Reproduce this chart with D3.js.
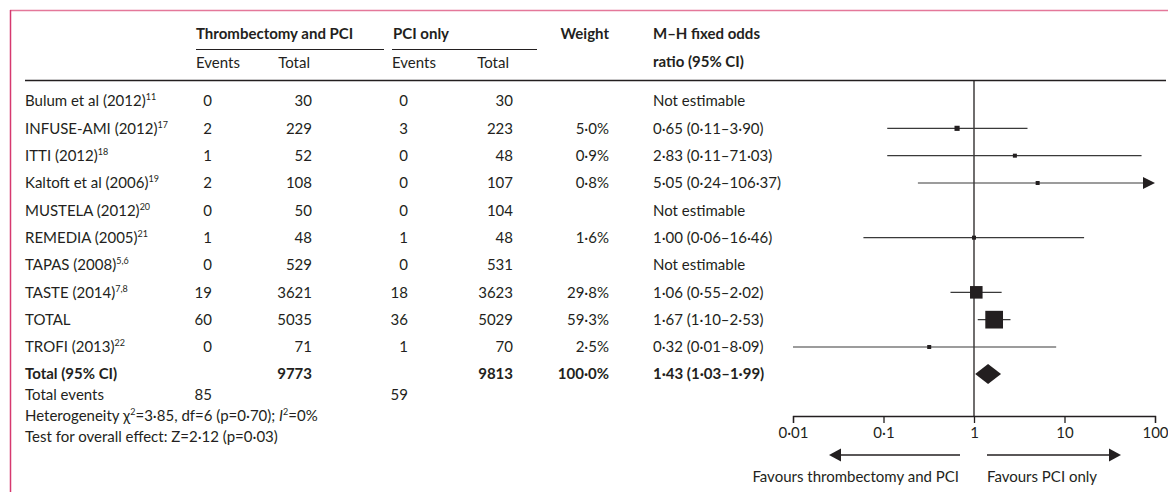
<!DOCTYPE html>
<html>
<head>
<meta charset="utf-8">
<script src="https://cdn.jsdelivr.net/npm/d3@7"></script>
<style>
  body { margin: 0; background: #fff; }
  text { font-family: Lato, "Open Sans", sans-serif; font-size: 15px; fill: #231f20; }
  .bold { font-weight: bold; }
</style>
</head>
<body>
<div id="forest"></div>
<script>
// study rows
const studies = ["Bulum et al (2012)", "INFUSE-AMI (2012)", "ITTI (2012)", "Kaltoft et al (2006)",
  "MUSTELA (2012)", "REMEDIA (2005)", "TAPAS (2008)", "TASTE (2014)", "TOTAL", "TROFI (2013)"];
const refs = ["11", "17", "18", "19", "20", "21", "5,6", "7,8", "", "22"];
const eventsT = [0, 2, 1, 2, 0, 1, 0, 19, 60, 0];
const totalT = [30, 229, 52, 108, 50, 48, 529, 3621, 5035, 71];
const eventsC = [0, 3, 0, 0, 0, 1, 0, 18, 36, 1];
const totalC = [30, 223, 48, 107, 104, 48, 531, 3623, 5029, 70];
const weights = [null, 5.0, 0.9, 0.8, null, 1.6, null, 29.8, 59.3, 2.5];
const oddsRatio = [null, 0.65, 2.83, 5.05, null, 1.00, null, 1.06, 1.67, 0.32];
const ciLow = [null, 0.11, 0.11, 0.24, null, 0.06, null, 0.55, 1.10, 0.01];
const ciHigh = [null, 3.90, 71.03, 106.37, null, 16.46, null, 2.02, 2.53, 8.09];

// pooled result
const pooled = {totalT: 9773, totalC: 9813, weight: 100.0, or: 1.43, lo: 1.03, hi: 1.99, eventsT: 85, eventsC: 59};
const axisTicks = [0.01, 0.1, 1, 10, 100];

const W = 1168, H = 492;
const svg = d3.select("#forest").append("svg")
    .attr("width", W).attr("height", H);

const fmt = v => v.toFixed(2).replace(".", "·");
const fmtW = v => v.toFixed(1).replace(".", "·") + "%";

// pink frame
svg.append("line").attr("x1", 10).attr("x2", W).attr("y1", 10.5).attr("y2", 10.5)
  .attr("stroke", "#e4789a").attr("stroke-width", 1.5);
svg.append("line").attr("x1", 10.5).attr("x2", 10.5).attr("y1", 10).attr("y2", H)
  .attr("stroke", "#d6386f").attr("stroke-width", 1.5);

// column positions
const col = {study: 25, evT: 212, totT: 312, evC: 408, totC: 513, weight: 609, or: 653};

// headers
svg.append("text").attr("class", "bold").attr("x", 196).attr("y", 34).attr("dy", "0.35em").text("Thrombectomy and PCI");
svg.append("text").attr("class", "bold").attr("x", 393).attr("y", 34).attr("dy", "0.35em").text("PCI only");
svg.append("text").attr("class", "bold").attr("x", col.weight).attr("y", 34).attr("dy", "0.35em")
  .attr("text-anchor", "end").text("Weight");
svg.append("text").attr("class", "bold").attr("x", col.or).attr("y", 34).attr("dy", "0.35em").text("M–H fixed odds");
svg.append("text").attr("class", "bold").attr("x", col.or).attr("y", 62).attr("dy", "0.35em").text("ratio (95% CI)");
svg.append("line").attr("x1", 196).attr("x2", 384).attr("y1", 49.5).attr("y2", 49.5).attr("stroke", "#231f20");
svg.append("line").attr("x1", 392).attr("x2", 537).attr("y1", 49.5).attr("y2", 49.5).attr("stroke", "#231f20");
svg.append("text").attr("x", 196).attr("y", 63).attr("dy", "0.35em").text("Events");
svg.append("text").attr("x", col.totT - 2).attr("y", 63).attr("dy", "0.35em").attr("text-anchor", "end").text("Total");
svg.append("text").attr("x", 392).attr("y", 63).attr("dy", "0.35em").text("Events");
svg.append("text").attr("x", col.totC - 4).attr("y", 63).attr("dy", "0.35em").attr("text-anchor", "end").text("Total");
svg.append("line").attr("x1", 25).attr("x2", 1166).attr("y1", 80.5).attr("y2", 80.5)
  .attr("stroke", "#231f20").attr("stroke-width", 1.5);

// scales
const y = d3.scalePoint().domain(d3.range(studies.length)).range([101, 347]);
const yTotal = 374;
const x = d3.scaleLog().domain([0.01, 100]).range([793, 1155]);
const box = d3.scaleSqrt().domain([0, 59.3]).range([0, 17.7]);

// table rows
const rows = svg.append("g").selectAll("g").data(studies).enter().append("g")
  .attr("transform", (d, i) => `translate(0,${y(i)})`);

const label = rows.append("text").attr("x", col.study).attr("dy", "0.35em");
label.append("tspan").text(d => d);
label.append("tspan").attr("dy", -6).attr("font-size", "9px").text((d, i) => refs[i]);

rows.append("text").attr("x", col.evT).attr("dy", "0.35em").attr("text-anchor", "end").text((d, i) => eventsT[i]);
rows.append("text").attr("x", col.totT).attr("dy", "0.35em").attr("text-anchor", "end").text((d, i) => totalT[i]);
rows.append("text").attr("x", col.evC).attr("dy", "0.35em").attr("text-anchor", "end").text((d, i) => eventsC[i]);
rows.append("text").attr("x", col.totC).attr("dy", "0.35em").attr("text-anchor", "end").text((d, i) => totalC[i]);
rows.append("text").attr("x", col.weight).attr("dy", "0.35em").attr("text-anchor", "end")
  .text((d, i) => weights[i] == null ? "" : fmtW(weights[i]));
rows.append("text").attr("x", col.or).attr("dy", "0.35em")
  .text((d, i) => oddsRatio[i] == null ? "Not estimable" : `${fmt(oddsRatio[i])} (${fmt(ciLow[i])}–${fmt(ciHigh[i])})`);

// totals row
const tot = svg.append("g").attr("transform", `translate(0,${yTotal})`);
tot.append("text").attr("class", "bold").attr("x", col.study).attr("dy", "0.35em").text("Total (95% CI)");
tot.append("text").attr("class", "bold").attr("x", col.totT).attr("dy", "0.35em").attr("text-anchor", "end").text(pooled.totalT);
tot.append("text").attr("class", "bold").attr("x", col.totC).attr("dy", "0.35em").attr("text-anchor", "end").text(pooled.totalC);
tot.append("text").attr("class", "bold").attr("x", col.weight).attr("dy", "0.35em").attr("text-anchor", "end").text(fmtW(pooled.weight));
tot.append("text").attr("class", "bold").attr("x", col.or).attr("dy", "0.35em")
  .text(`${fmt(pooled.or)} (${fmt(pooled.lo)}–${fmt(pooled.hi)})`);

svg.append("text").attr("x", col.study).attr("y", 395).attr("dy", "0.35em").text("Total events");
svg.append("text").attr("x", col.evT).attr("y", 395).attr("dy", "0.35em").attr("text-anchor", "end").text(pooled.eventsT);
svg.append("text").attr("x", col.evC).attr("y", 395).attr("dy", "0.35em").attr("text-anchor", "end").text(pooled.eventsC);

const het = svg.append("text").attr("x", col.study).attr("y", 416).attr("dy", "0.35em");
het.append("tspan").text("Heterogeneity χ");
het.append("tspan").attr("dy", -6).attr("font-size", "9px").text("2");
het.append("tspan").attr("dy", 6).text("=3·85, df=6 (p=0·70); ");
het.append("tspan").attr("font-style", "italic").text("I");
het.append("tspan").attr("dy", -6).attr("font-size", "9px").text("2");
het.append("tspan").attr("dy", 6).text("=0%");
svg.append("text").attr("x", col.study).attr("y", 437).attr("dy", "0.35em").text("Test for overall effect: Z=2·12 (p=0·03)");

// forest plot
const axisY = 416;
svg.append("line").attr("x1", x(1)).attr("x2", x(1)).attr("y1", 81).attr("y2", axisY)
  .attr("stroke", "#231f20").attr("stroke-width", 1.3);

const idx = d3.range(studies.length).filter(i => oddsRatio[i] != null);
const ci = svg.append("g");
ci.selectAll("line").data(idx).enter().append("line")
  .attr("x1", i => x(Math.max(ciLow[i], 0.01)))
  .attr("x2", i => ciHigh[i] > 100 ? x(100) - 10 : x(ciHigh[i]))
  .attr("y1", i => y(i)).attr("y2", i => y(i))
  .attr("stroke", "#3a3a3a").attr("stroke-width", 1.2);

// arrow heads for CIs running off the scale
ci.selectAll("path").data(idx.filter(i => ciHigh[i] > 100)).enter().append("path")
  .attr("d", i => `M${x(100) - 12},${y(i) - 6} L${x(100)},${y(i)} L${x(100) - 12},${y(i) + 6} Z`)
  .attr("fill", "#231f20");

svg.append("g").selectAll("rect").data(idx).enter().append("rect")
  .attr("x", i => x(oddsRatio[i]) - Math.max(4, box(weights[i])) / 2)
  .attr("y", i => y(i) - Math.max(4, box(weights[i])) / 2)
  .attr("width", i => Math.max(4, box(weights[i])))
  .attr("height", i => Math.max(4, box(weights[i])))
  .attr("fill", "#231f20");

// pooled diamond
svg.append("path")
  .attr("d", `M${x(pooled.lo)},${yTotal} L${x(pooled.or)},${yTotal - 10} L${x(pooled.hi)},${yTotal} L${x(pooled.or)},${yTotal + 10} Z`)
  .attr("fill", "#231f20");

// axis
const axis = svg.append("g").attr("transform", `translate(0,${axisY})`)
  .call(d3.axisBottom(x).tickValues(axisTicks).tickSize(7).tickPadding(4)
    .tickFormat(d => d < 1 ? String(d).replace(".", "·") : d));
axis.select(".domain").attr("stroke", "#231f20").attr("stroke-width", 1.3);
axis.selectAll(".tick line").attr("stroke", "#231f20").attr("stroke-width", 1.3);
axis.selectAll(".tick text").attr("font-family", null).attr("font-size", null).attr("fill", "#231f20");

// favours arrows
const arrowY = 455;
svg.append("line").attr("x1", 960).attr("x2", 838).attr("y1", arrowY).attr("y2", arrowY).attr("stroke", "#231f20").attr("stroke-width", 1.3);
svg.append("path").attr("d", `M829,${arrowY} L841,${arrowY - 6.5} L841,${arrowY + 6.5} Z`).attr("fill", "#231f20");
svg.append("line").attr("x1", 987).attr("x2", 1112).attr("y1", arrowY).attr("y2", arrowY).attr("stroke", "#231f20").attr("stroke-width", 1.3);
svg.append("path").attr("d", `M1121,${arrowY} L1109,${arrowY - 6.5} L1109,${arrowY + 6.5} Z`).attr("fill", "#231f20");
svg.append("text").attr("x", 959).attr("y", 477).attr("dy", "0.35em").attr("text-anchor", "end").text("Favours thrombectomy and PCI");
svg.append("text").attr("x", 987).attr("y", 477).attr("dy", "0.35em").text("Favours PCI only");
</script>
</body>
</html>
